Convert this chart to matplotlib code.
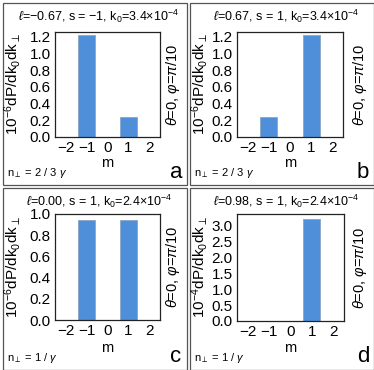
import matplotlib
matplotlib.use('Agg')
import matplotlib.pyplot as plt
from matplotlib.patches import Rectangle
from matplotlib.ticker import FormatStrFormatter, MultipleLocator

plt.rcParams['font.family'] = ['Liberation Sans', 'DejaVu Sans']
plt.rcParams['mathtext.fontset'] = 'custom'
plt.rcParams['mathtext.rm'] = 'Liberation Sans'
plt.rcParams['mathtext.it'] = 'Liberation Sans:italic'

# data
m = [-2, -1, 0, 1, 2]
power_a = [0, 1.22, 0, 0.24, 0]
power_b = [0, 0.24, 0, 1.22, 0]
power_c = [0, 0.945, 0, 0.945, 0]
power_d = [0, 0.01, 0, 3.2, 0]

titles = [r'$\ell$=−0.67, s = −1, k$_0$=3.4×10$^{-4}$',
          r'$\ell$=0.67, s = 1, k$_0$=3.4×10$^{-4}$',
          r'$\ell$=0.00, s = 1, k$_0$=2.4×10$^{-4}$',
          r'$\ell$=0.98, s = 1, k$_0$=2.4×10$^{-4}$']
ylabels = [r'10$^{-6}$dP/dk$_0$dk$_\perp$'] * 3 + [r'10$^{-4}$dP/dk$_0$dk$_\perp$']
nperp = [r'n$_\perp$ = 2 / 3 $\gamma$', r'n$_\perp$ = 2 / 3 $\gamma$',
         r'n$_\perp$ = 1 / $\gamma$', r'n$_\perp$ = 1 / $\gamma$']
letters = ['a', 'b', 'c', 'd']
ymax = [1.26, 1.26, 1.0, 3.36]
ystep = [0.2, 0.2, 0.2, 0.5]
series = [power_a, power_b, power_c, power_d]

W, H = 374, 370
fig = plt.figure(figsize=(W / 100, H / 100), dpi=100)

def fx(x):
    return x / W

def fy(y):
    return 1 - y / H

# axes boxes in pixels: left, top, right, bottom
boxes = [(55, 32, 160, 137), (237, 32, 343, 137),
         (55, 214, 160, 320), (237, 214, 344, 321)]
origins = [(0, 0), (187, 0), (0, 185), (187, 185)]

for i in range(4):
    ox, oy = origins[i]
    l, t, r, b = boxes[i]
    ax = fig.add_axes([fx(l), fy(b), (r - l) / W, (b - t) / H])
    ax.bar(m, series[i], width=0.8, color='#4f8fda', edgecolor='#8aa6c8', linewidth=0.6)
    ax.set_xlim(-2.5, 2.5)
    ax.set_ylim(0, ymax[i])
    ax.set_xticks(m)
    ax.yaxis.set_major_locator(MultipleLocator(ystep[i]))
    ax.yaxis.set_major_formatter(FormatStrFormatter('%.1f'))
    ax.tick_params(length=0, labelsize=11, pad=3)
    for s in ax.spines.values():
        s.set_color('#222222')
        s.set_linewidth(0.9)

    yc = (t + b) / 2
    fig.text(fx(ox + 99), fy(oy + 16), titles[i], fontsize=9, ha='center', va='center')
    fig.text(fx(ox + 13), fy(yc), ylabels[i], fontsize=11, rotation=90,
             ha='center', va='center')
    fig.text(fx(ox + 173), fy(yc), r'$\it{\theta}$=0, $\it{\varphi}$=$\pi$/10', fontsize=10.5,
             rotation=90, ha='center', va='center')
    fig.text(fx((l + r) / 2), fy(oy + 167), 'm', fontsize=10.5, ha='center', va='baseline')
    fig.text(fx(ox + 7), fy(oy + 173), nperp[i], fontsize=8, ha='left', va='center')
    fig.text(fx(ox + 176), fy(oy + 172), letters[i], fontsize=16, ha='center', va='center')

    # panel frame
    fig.patches.append(Rectangle((fx(ox + 3), fy(oy + 185)), 184 / W, 182 / H,
                                 transform=fig.transFigure, fill=False,
                                 edgecolor='#555555', linewidth=0.9))

fig.savefig('out.png', dpi=100)
